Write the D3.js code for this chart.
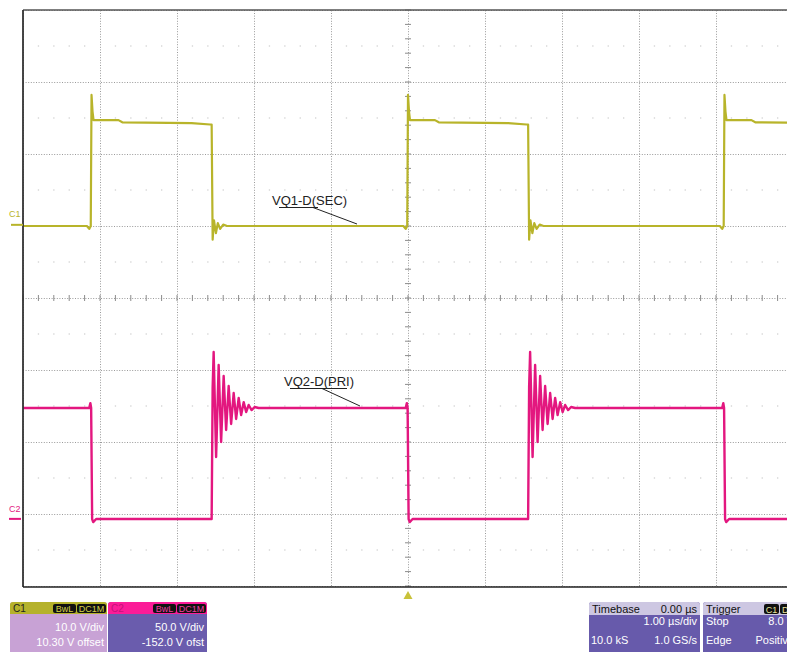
<!DOCTYPE html>
<html>
<head>
<meta charset="utf-8">
<script src="https://cdn.jsdelivr.net/npm/d3@7"></script>
<style>
body { margin: 0; background: #fff; }
svg { display: block; font-family: "Liberation Sans", Arial, sans-serif; }
</style>
</head>
<body>
<svg id="scope" width="787" height="652"></svg>
<script>
// screen: 10 time divisions, 8 volt divisions
var timeDivs = [-5, -4, -3, -2, -1, 0, 1, 2, 3, 4, 5];
var voltDivs = [-4, -3, -2, -1, 0, 1, 2, 3, 4];

// channel settings (V/div, offset V)
var c1VoltsPerDiv = 10.0, c1Offset = 10.30;
var c2VoltsPerDiv = 50.0, c2Offset = -152.0;

// C1 : VQ1-D(SEC), edge times in us, shapes as [dt us, V]
var c1StartLevel = -0.3;
var c1RiseTimes = [-4.11, 0.0, 4.11];
var c1FallTimes = [-2.55, 1.56];
var c1RiseShape = [[-0.06, -0.3], [-0.03, -0.7], [-0.01, -0.3], [0, 17.9], [0.013, 15.6], [0.026, 14.4],
	[0.35, 14.4], [0.4, 14.1], [1.3, 14.0], [1.54, 13.8]];
var c1FallShape = [[0, 13.8], [0.013, -2.2], [0.03, 0.5], [0.055, -1.3], [0.08, 0.1], [0.11, -0.7],
	[0.15, -0.1], [0.2, -0.3]];

// C2 : VQ2-D(PRI)
var c2StartLevel = 75.6;
var c2EndLevel = -1.5;
var c2FallTimes = [-4.11, 0.0, 4.11];
var c2RiseTimes = [-2.55, 1.56];
var c2FallShape = [[-0.03, 75.6], [-0.015, 79.0], [-0.005, 75.6], [0.008, -1.5], [0.022, -3.6], [0.06, -1.5]];
var c2RiseShape = [[0, -1.5], [0.013, 90.0], [0.026, 114.5], [0.058, 41.6], [0.091, 105.5], [0.123, 52.0],
	[0.156, 97.8], [0.188, 60.3], [0.221, 90.9], [0.253, 64.5], [0.286, 86.0], [0.318, 68.0],
	[0.351, 82.6], [0.383, 70.7], [0.416, 79.7], [0.448, 72.8], [0.481, 77.7], [0.519, 74.2],
	[0.558, 76.3], [0.61, 75.6]];

// readout boxes
var c1Readout = ["10.0 V/div", "10.30 V offset"];
var c2Readout = ["50.0 V/div", "-152.0 V ofst"];
var timebaseReadout = ["0.00 \u00b5s", "1.00 \u00b5s/div", "10.0 kS", "1.0 GS/s"];
var triggerReadout = ["Stop", "8.0 V", "Edge", "Positive"];

var c1Color = "#b8b42a", c2Color = "#e3177f";

var gLeft = 23, gTop = 10, gridW = 770, gridH = 576;

var svg = d3.select("#scope");

var x = d3.scaleLinear().domain([-5, 5]).range([gLeft, gLeft + gridW]);
var yDiv = d3.scaleLinear().domain([-4, 4]).range([gTop + gridH, gTop]);
var y1 = function(v) { return yDiv((v + c1Offset) / c1VoltsPerDiv); };
var y2 = function(v) { return yDiv((v + c2Offset) / c2VoltsPerDiv); };

svg.append("defs").append("clipPath").attr("id", "screen")
	.append("rect").attr("x", gLeft).attr("y", gTop).attr("width", 787 - gLeft).attr("height", gridH);

// faint dots on the half division rows
var grid = svg.append("g");
for (var k = 0; k < voltDivs.length - 1; k++) {
	var yy = yDiv(voltDivs[k] + 0.5);
	for (var m = 0; m < 50; m++) {
		if (m % 5 == 0) continue;
		grid.append("rect").attr("x", x(-5 + m / 5) - 0.6).attr("y", yy - 0.5)
			.attr("width", 1.3).attr("height", 1).attr("fill", "#c4c4c4");
	}
}

// dotted grid through the axes
grid.append("g")
	.attr("class", "vgrid")
	.attr("transform", "translate(0," + (gTop + gridH) + ")")
	.call(d3.axisBottom(x).tickValues(timeDivs).tickSize(-gridH).tickFormat(""));
grid.append("g")
	.attr("class", "hgrid")
	.attr("transform", "translate(" + gLeft + ",0)")
	.call(d3.axisLeft(yDiv).tickValues(voltDivs).tickSize(-gridW).tickFormat(""));
grid.selectAll(".domain").remove();
grid.selectAll(".tick line")
	.attr("stroke", "#9a9a9a")
	.attr("stroke-width", 1)
	.attr("stroke-dasharray", "1,1.6");

// centre cross ticks
var minorT = d3.range(-25, 26).map(function(i) { return i / 5; });
var minorV = d3.range(-20, 21).map(function(i) { return i / 5; });
grid.selectAll(".tickT").data(minorT).enter().append("line")
	.attr("x1", function(d) { return x(d); }).attr("x2", function(d) { return x(d); })
	.attr("y1", yDiv(0) - 3).attr("y2", yDiv(0) + 3)
	.attr("stroke", "#8c8c8c");
grid.selectAll(".tickV").data(minorV).enter().append("line")
	.attr("x1", x(0) - 3).attr("x2", x(0) + 3)
	.attr("y1", function(d) { return yDiv(d); }).attr("y2", function(d) { return yDiv(d); })
	.attr("stroke", "#8c8c8c");

// build the traces from edge times and shapes
function buildTrace(startLevel, riseTimes, riseShape, fallTimes, fallShape) {
	var events = [];
	riseTimes.forEach(function(t) { events.push({t: t, shape: riseShape}); });
	fallTimes.forEach(function(t) { events.push({t: t, shape: fallShape}); });
	events.sort(function(a, b) { return a.t - b.t; });
	var pts = [[-5, startLevel]];
	events.forEach(function(e) {
		e.shape.forEach(function(p) { pts.push([e.t + p[0], p[1]]); });
	});
	return pts;
}

var c1Data = buildTrace(c1StartLevel, c1RiseTimes, c1RiseShape, c1FallTimes, c1FallShape);
var c2Data = buildTrace(c2StartLevel, c2RiseTimes, c2RiseShape, c2FallTimes, c2FallShape);
c2Data.push([5, c2EndLevel]);

var traces = svg.append("g").attr("clip-path", "url(#screen)");
traces.append("path")
	.datum(c2Data)
	.attr("fill", "none")
	.attr("stroke", c2Color)
	.attr("stroke-width", 2.4)
	.attr("stroke-linejoin", "round")
	.attr("d", d3.line().x(function(d) { return x(d[0]); }).y(function(d) { return y2(d[1]); }));
traces.append("path")
	.datum(c1Data)
	.attr("fill", "none")
	.attr("stroke", c1Color)
	.attr("stroke-width", 2.2)
	.attr("stroke-linejoin", "round")
	.attr("d", d3.line().x(function(d) { return x(d[0]); }).y(function(d) { return y1(d[1]); }));

// frame
svg.append("line").attr("x1", gLeft).attr("x2", 787).attr("y1", gTop).attr("y2", gTop)
	.attr("stroke", "#555").attr("stroke-width", 1.5);
svg.append("line").attr("x1", gLeft).attr("x2", gLeft).attr("y1", gTop).attr("y2", gTop + gridH + 1)
	.attr("stroke", "#333").attr("stroke-width", 1.8);
svg.append("line").attr("x1", gLeft).attr("x2", 787).attr("y1", gTop + gridH + 1).attr("y2", gTop + gridH + 1)
	.attr("stroke", "#222").attr("stroke-width", 1.6);

// trigger position marker
svg.append("path")
	.attr("d", "M" + x(0) + "," + (gTop + gridH + 5) + "l-4.5,8h9z")
	.attr("fill", "#c9c23a");

// channel ground markers
svg.append("text").attr("x", 9).attr("y", y1(0) - 7).attr("font-size", 9)
	.attr("fill", c1Color).text("C1");
svg.append("line").attr("x1", 11).attr("x2", gLeft).attr("y1", y1(0) + 1).attr("y2", y1(0) + 1)
	.attr("stroke", c1Color).attr("stroke-width", 2);
svg.append("text").attr("x", 9).attr("y", y2(0) - 5).attr("font-size", 9)
	.attr("fill", c2Color).text("C2");
svg.append("line").attr("x1", 9).attr("x2", 21).attr("y1", y2(0) + 2).attr("y2", y2(0) + 2)
	.attr("stroke", c2Color).attr("stroke-width", 2);

// trace labels
function traceLabel(txt, tx, ty, ux1, ux2, ax1, ax2, ay2) {
	svg.append("text").attr("x", tx).attr("y", ty).attr("font-size", 13)
		.attr("fill", "#222").text(txt);
	svg.append("line").attr("x1", ux1).attr("x2", ux2).attr("y1", ty + 2.5).attr("y2", ty + 2.5)
		.attr("stroke", "#222").attr("stroke-width", 1);
	svg.append("line").attr("x1", ax1).attr("x2", ax2).attr("y1", ty + 2.5).attr("y2", ay2)
		.attr("stroke", "#222").attr("stroke-width", 1);
}
traceLabel("VQ1-D(SEC)", 272, 205, 279, 318, 313, 357, 224);
traceLabel("VQ2-D(PRI)", 284, 386, 290, 347, 322, 360, 406);

// readout boxes
var boxTop = 602, headH = 12, row1 = 631, row2 = 646;

function tagBox(bx, w, txt, col) {
	svg.append("rect").attr("x", bx).attr("y", boxTop + 2).attr("width", w).attr("height", 9)
		.attr("rx", 2).attr("fill", "#111");
	svg.append("text").attr("x", bx + w / 2).attr("y", boxTop + 10).attr("text-anchor", "middle")
		.attr("font-size", 9).attr("fill", col).text(txt);
}

function channelBox(bx, w, name, headCol, nameCol, bodyCol, tagCol, lines) {
	svg.append("rect").attr("x", bx).attr("y", boxTop).attr("width", w).attr("height", 60)
		.attr("rx", 3).attr("fill", bodyCol);
	svg.append("path")
		.attr("d", "M" + bx + "," + (boxTop + headH) + "V" + (boxTop + 3) + "q0,-3 3,-3H" + (bx + w - 3) +
			"q3,0 3,3V" + (boxTop + headH) + "z")
		.attr("fill", headCol);
	svg.append("text").attr("x", bx + 3).attr("y", boxTop + 10).attr("font-size", 10)
		.attr("fill", nameCol).text(name);
	tagBox(bx + w - 54, 23, "BwL", tagCol);
	tagBox(bx + w - 30, 29, "DC1M", tagCol);
	svg.append("text").attr("x", bx + w - 3).attr("y", row1).attr("text-anchor", "end")
		.attr("font-size", 11).attr("fill", "#fff").text(lines[0]);
	svg.append("text").attr("x", bx + w - 3).attr("y", row2).attr("text-anchor", "end")
		.attr("font-size", 11).attr("fill", "#fff").text(lines[1]);
}
channelBox(10, 97, "C1", "#b5b22c", "#222", "#c8a2d5", "#d6d24a", c1Readout);
channelBox(108, 99, "C2", "#fb1c98", "#c4127a", "#6a5cad", "#f03fa0", c2Readout);

function infoBox(bx, w, title) {
	svg.append("rect").attr("x", bx).attr("y", boxTop).attr("width", w).attr("height", 60)
		.attr("rx", 3).attr("fill", "#675aab");
	svg.append("path")
		.attr("d", "M" + bx + "," + (boxTop + headH + 1) + "V" + (boxTop + 3) + "q0,-3 3,-3H" + (bx + w - 3) +
			"q3,0 3,3V" + (boxTop + headH + 1) + "z")
		.attr("fill", "#cdc7e2");
	svg.append("text").attr("x", bx + 3).attr("y", boxTop + 11).attr("font-size", 11)
		.attr("fill", "#111").text(title);
}
infoBox(589, 111, "Timebase");
svg.append("text").attr("x", 697).attr("y", boxTop + 11).attr("text-anchor", "end")
	.attr("font-size", 11).attr("fill", "#111").text(timebaseReadout[0]);
svg.append("text").attr("x", 697).attr("y", row1 - 6).attr("text-anchor", "end")
	.attr("font-size", 11).attr("fill", "#fff").text(timebaseReadout[1]);
svg.append("text").attr("x", 591).attr("y", row2 - 2).attr("font-size", 11)
	.attr("fill", "#fff").text(timebaseReadout[2]);
svg.append("text").attr("x", 697).attr("y", row2 - 2).attr("text-anchor", "end")
	.attr("font-size", 11).attr("fill", "#fff").text(timebaseReadout[3]);

infoBox(703, 110, "Trigger");
svg.append("rect").attr("x", 764).attr("y", boxTop + 2).attr("width", 15).attr("height", 10)
	.attr("rx", 2).attr("fill", "#111");
svg.append("text").attr("x", 771.5).attr("y", boxTop + 10.5).attr("text-anchor", "middle")
	.attr("font-size", 9).attr("fill", "#e8e6a0").text("C1");
svg.append("rect").attr("x", 780).attr("y", boxTop + 2).attr("width", 12).attr("height", 10)
	.attr("rx", 2).attr("fill", "#111");
svg.append("text").attr("x", 782).attr("y", boxTop + 10.5)
	.attr("font-size", 9).attr("fill", "#e8e6a0").text("D");
svg.append("text").attr("x", 706).attr("y", row1 - 6).attr("font-size", 11)
	.attr("fill", "#fff").text(triggerReadout[0]);
svg.append("text").attr("x", 794).attr("y", row1 - 6).attr("text-anchor", "end")
	.attr("font-size", 11).attr("fill", "#fff").text(triggerReadout[1]);
svg.append("text").attr("x", 706).attr("y", row2 - 2).attr("font-size", 11)
	.attr("fill", "#fff").text(triggerReadout[2]);
svg.append("text").attr("x", 794).attr("y", row2 - 2).attr("text-anchor", "end")
	.attr("font-size", 11).attr("fill", "#fff").text(triggerReadout[3]);
</script>
</body>
</html>
